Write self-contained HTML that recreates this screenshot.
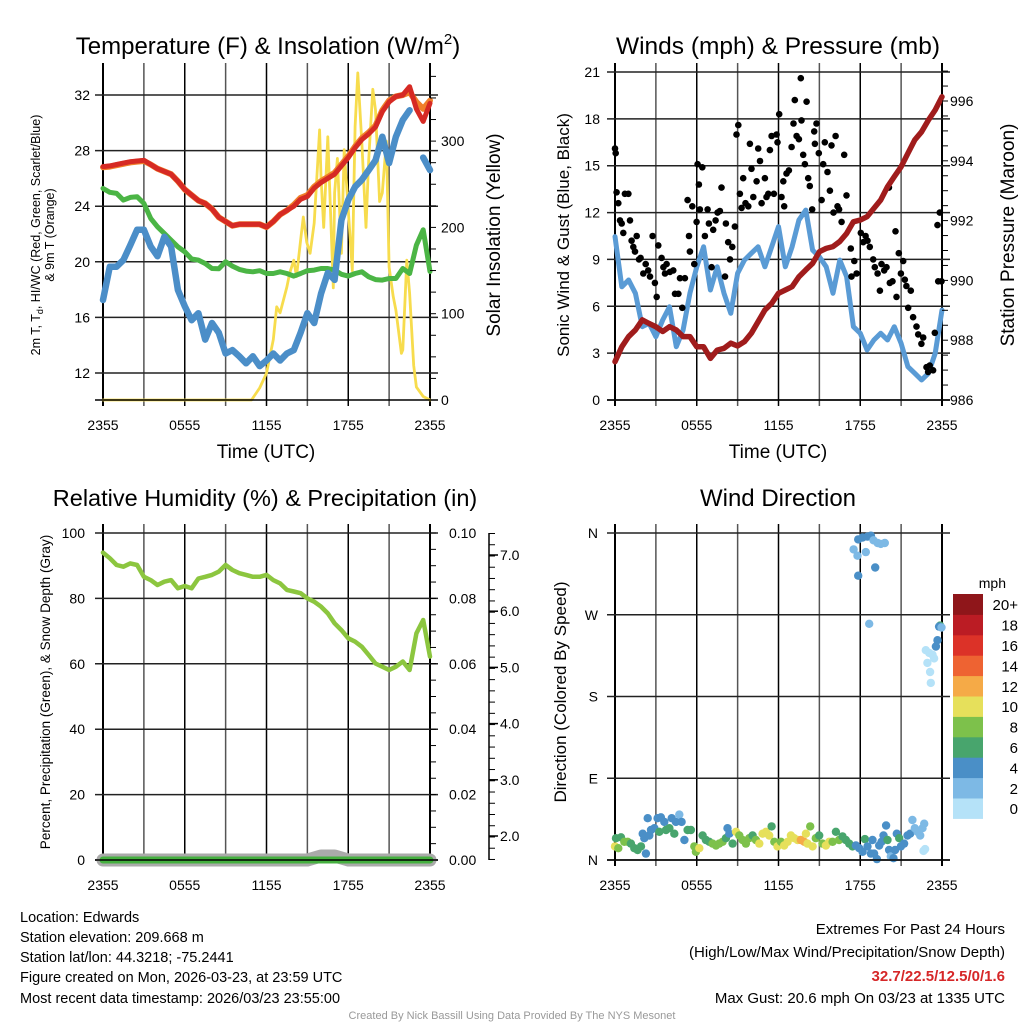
<!DOCTYPE html>
<html><head><meta charset="utf-8">
<style>
html,body{margin:0;padding:0;background:#fff;}
svg{display:block;font-family:"Liberation Sans",Arial,sans-serif;}
</style></head>
<body>
<svg id="chart" width="1024" height="1024" viewBox="0 0 1024 1024" xmlns="http://www.w3.org/2000/svg">
<rect x="0" y="0" width="1024" height="1024" fill="#fff"/>
<g id="grids"></g>
<g id="marks"></g>
<g id="frames"></g>
<g id="labels" fill="#000"></g>
<text x="268" y="54" font-size="24" text-anchor="middle">Temperature (F) &amp; Insolation (W/m<tspan font-size="15" dy="-10">2</tspan><tspan dy="10">)</tspan></text>
<text x="778" y="54" font-size="24.5" text-anchor="middle">Winds (mph) &amp; Pressure (mb)</text>
<text x="265" y="506" font-size="23.5" text-anchor="middle">Relative Humidity (%) &amp; Precipitation (in)</text>
<text x="778" y="506" font-size="24" text-anchor="middle">Wind Direction</text>
<text transform="translate(40,235) rotate(-90)" font-size="12.5" text-anchor="middle">2m T, T<tspan font-size="9" dy="3">d</tspan><tspan dy="-3">, HI/WC (Red, Green, Scarlet/Blue)</tspan></text>
<text transform="translate(54,235) rotate(-90)" font-size="12.5" text-anchor="middle">&amp; 9m T (Orange)</text>
<text transform="translate(500,235) rotate(-90)" font-size="19" text-anchor="middle">Solar Insolation (Yellow)</text>
<text transform="translate(569,235) rotate(-90)" font-size="17" text-anchor="middle">Sonic Wind &amp; Gust (Blue, Black)</text>
<text transform="translate(1014,235) rotate(-90)" font-size="19" text-anchor="middle">Station Pressure (Maroon)</text>
<text transform="translate(50,692) rotate(-90)" font-size="13.5" text-anchor="middle">Percent, Precipitation (Green), &amp; Snow Depth (Gray)</text>
<text transform="translate(566,692) rotate(-90)" font-size="17" text-anchor="middle">Direction (Colored By Speed)</text>
<text x="266" y="458" font-size="19" text-anchor="middle">Time (UTC)</text>
<text x="778" y="458" font-size="19" text-anchor="middle">Time (UTC)</text>
<text x="1006" y="588" font-size="14" text-anchor="end">mph</text>
<g font-size="14.5">
<text x="20" y="922">Location: Edwards</text>
<text x="20" y="942">Station elevation: 209.668 m</text>
<text x="20" y="962">Station lat/lon: 44.3218; -75.2441</text>
<text x="20" y="982">Figure created on Mon, 2026-03-23, at 23:59 UTC</text>
<text x="20" y="1003">Most recent data timestamp: 2026/03/23 23:55:00</text>
</g>
<g font-size="15" text-anchor="end">
<text x="1005" y="934">Extremes For Past 24 Hours</text>
<text x="1005" y="957">(High/Low/Max Wind/Precipitation/Snow Depth)</text>
<text x="1005" y="981" fill="#d62728" font-weight="bold">32.7/22.5/12.5/0/1.6</text>
<text x="1005" y="1003">Max Gust: 20.6 mph On 03/23 at 1335 UTC</text>
</g>
<text x="512" y="1019" font-size="11" fill="#999" text-anchor="middle">Created By Nick Bassill Using Data Provided By The NYS Mesonet</text>
</svg>
<script>
// ---- data ----
const halfHours = [0,0.5,1,1.5,2,2.5,3,3.5,4,4.5,5,5.5,6,6.5,7,7.5,8,8.5,9,9.5,10,10.5,11,11.5,12,12.5,13,13.5,14,14.5,15,15.5,16,16.5,17,17.5,18,18.5,19,19.5,20,20.5,21,21.5,22,22.5,23,23.5,24];
const timeTickLabels = ["2355","0555","1155","1755","2355"];
const tempF = [26.85,26.9,27.0,27.1,27.2,27.25,27.3,27.0,26.7,26.5,26.3,25.8,25.2,24.8,24.4,24.2,23.8,23.2,22.9,22.6,22.7,22.7,22.7,22.7,22.5,22.9,23.4,23.7,24.0,24.5,24.7,25.3,25.7,26.0,26.3,26.9,27.5,28.2,28.8,29.2,29.7,30.8,31.5,31.9,32.0,32.6,31.0,30.1,31.4];
const temp9mF = [26.8,26.85,26.95,27.05,27.15,27.2,27.25,27.0,26.7,26.5,26.3,25.8,25.2,24.8,24.4,24.2,23.8,23.2,22.9,22.6,22.7,22.7,22.7,22.7,22.5,22.9,23.4,23.7,24.1,24.6,24.8,25.4,25.8,26.1,26.4,27.0,27.6,28.3,28.9,29.3,29.8,30.9,31.6,31.9,32.0,32.2,31.5,31.0,31.6];
const dewF = [25.28,25.0,24.92,24.44,24.63,24.68,24.2,23.12,22.52,22.04,21.56,21.08,20.72,20.2,20.12,19.88,19.52,19.5,20.0,19.69,19.45,19.33,19.28,19.36,19.16,19.16,19.28,19.16,18.97,19.16,19.36,19.4,19.52,19.52,19.4,19.1,18.97,19.16,19.28,18.92,18.72,18.68,18.8,18.8,19.52,19.16,21.2,22.3,19.3];
const windChillF = [17.25,19.65,19.65,20.13,21.2,22.3,22.3,21.1,20.4,21.8,21.1,17.97,16.8,15.8,16.3,14.4,15.6,14.9,13.4,13.65,13.2,12.7,13.2,12.5,12.9,13.4,12.9,13.4,13.65,14.9,16.3,15.6,17.7,19.2,18.7,23.0,24.45,25.4,25.9,26.6,27.3,29.0,27.1,29.0,30.2,30.9,null,27.5,26.6];
const solarHours = [0,10.9,11.5,12,12.5,12.75,13,13.5,13.7,14,14.2,14.5,14.7,14.95,15.2,15.5,15.9,16,16.2,16.5,16.9,17,17.2,17.5,17.7,18,18.3,18.5,18.7,19,19.3,19.5,19.8,20,20.3,20.5,20.8,21,21.3,21.5,21.9,22,22.3,22.5,22.8,23,23.5,24];
const solarWm2 = [0,0,14,31,70,108,101,131,147,162,143,185,212,183,170,205,313,259,200,305,130,240,280,170,290,220,150,317,379,297,200,278,360,336,230,240,300,154,120,104,54,58,162,124,40,15,4,0];
const tempTicks = [12,16,20,24,28,32];
const solarTicks = [0,100,200,300];

const windMph = [10.46,7.25,7.68,6.83,4.69,4.91,4.05,5.12,5.97,3.41,4.48,6.83,8.53,9.81,7.04,8.53,6.83,5.55,8.11,8.96,9.39,9.81,8.53,9.81,11.1,8.53,9.81,11.52,12.16,9.6,9.17,8.53,6.83,8.96,7.9,4.69,4.27,3.2,3.84,4.27,3.84,4.69,3.63,2.13,1.71,1.28,1.71,2.99,5.76];
const pressureMb = [987.28,987.78,988.12,988.34,988.68,988.56,988.45,988.29,988.45,988.34,988.12,988.12,987.78,987.78,987.39,987.67,987.73,987.9,987.81,987.95,988.23,988.62,989.01,989.23,989.57,989.68,989.79,990.12,990.35,990.57,990.96,991.07,991.13,991.3,991.57,991.96,992.02,992.13,992.41,992.69,993.13,993.47,993.8,994.25,994.7,994.97,995.36,995.7,996.14];
const gustHours = [0,0.05,0.12,0.24,0.37,0.49,0.61,0.73,0.98,1.1,1.22,1.34,1.47,1.59,1.76,1.88,2.08,2.25,2.44,2.57,2.76,2.93,3.06,3.18,3.42,3.55,3.67,3.79,4.03,4.28,4.4,4.65,4.77,4.94,5.13,5.33,5.43,5.5,5.67,5.82,5.99,6.06,6.16,6.23,6.41,6.6,6.8,6.89,7.09,7.21,7.38,7.53,7.7,7.82,8.07,8.14,8.31,8.44,8.61,8.8,8.92,9.05,9.17,9.29,9.41,9.58,9.78,9.9,10.02,10.15,10.39,10.51,10.64,10.76,11.0,11.12,11.25,11.37,11.49,11.66,11.86,11.93,12.05,12.22,12.35,12.42,12.59,12.76,12.96,13.1,13.2,13.33,13.5,13.64,13.69,13.81,13.94,14.06,14.18,14.3,14.47,14.62,14.67,14.79,14.96,15.16,15.28,15.4,15.6,15.77,15.89,16.04,16.19,16.33,16.45,16.63,16.82,16.99,17.31,17.36,17.56,17.73,18.04,18.22,18.39,18.53,18.7,18.95,19.07,19.27,19.44,19.56,19.76,19.93,20.1,20.17,20.37,20.59,20.66,20.83,20.98,21.15,21.27,21.39,21.52,21.71,21.88,22.13,22.25,22.49,22.62,22.86,22.98,23.1,23.35,23.47,23.67,23.72,23.84,23.96];
const gustMph = [16.1,15.8,13.3,12.6,11.5,11.3,10.7,13.2,13.2,11.5,10.2,9.8,9.5,10.5,9.0,9.1,8.1,8.7,8.3,7.9,10.5,7.5,6.6,9.9,9.1,8.5,8.1,8.7,8.2,8.3,6.8,6.8,7.8,5.9,7.8,12.8,10.5,9.5,12.4,8.7,11.4,15.1,13.8,12.2,14.9,10.5,12.2,11.3,8.5,10.9,11.5,12.0,12.1,13.6,7.9,11.3,10.1,9.0,9.8,11.1,17.0,17.6,13.2,12.3,14.2,12.6,12.4,16.4,14.8,13.0,14.0,16.1,15.3,12.6,14.2,13.0,13.2,16.0,16.9,13.2,17.0,16.5,18.3,13.0,14.0,12.4,14.5,14.7,16.2,17.7,19.2,16.9,16.7,20.6,17.9,15.7,15.1,19.1,14.2,13.7,12.2,17.2,16.4,17.7,15.8,12.8,15.1,16.5,14.6,13.4,16.3,12.0,16.9,12.4,12.2,11.4,15.7,13.1,9.7,7.9,8.9,8.1,10.7,10.1,10.5,10.2,9.8,9.0,8.5,8.1,7.0,8.7,8.3,8.5,13.6,7.5,7.6,10.8,6.6,9.4,8.1,8.9,7.7,7.3,5.9,7.0,5.3,4.7,4.2,3.6,4.0,2.1,1.8,2.2,1.9,4.3,11.2,7.6,12.0,7.6];
const windTicks = [0,3,6,9,12,15,18,21];
const pressureTicks = [986,988,990,992,994,996];

const rhPct = [94.0,92.3,90.2,89.7,90.7,90.2,86.6,85.6,84.1,85.1,85.6,83.1,83.8,83.1,86.1,86.6,87.2,88.2,90.2,88.7,87.7,87.2,86.6,86.6,87.2,85.6,84.6,82.6,82.1,81.6,80.0,79.0,77.5,75.4,72.4,70.3,67.8,66.8,65.2,62.7,60.1,59.1,58.1,59.1,60.7,58.1,69.3,73.4,62.2];
const hourly = [0,1,2,3,4,5,6,7,8,9,10,11,12,13,14,15,16,17,18,19,20,21,22,23,24];
const precipIn = [0,0,0,0,0,0,0,0,0,0,0,0,0,0,0,0,0,0,0,0,0,0,0,0,0];
const snowDepthIn = [1.6,1.6,1.6,1.6,1.6,1.6,1.6,1.6,1.6,1.6,1.6,1.6,1.6,1.6,1.6,1.6,1.62,1.62,1.6,1.6,1.6,1.6,1.6,1.6,1.6];
const rhTicks = [0,20,40,60,80,100];
const precipTicks = ["0.00","0.02","0.04","0.06","0.08","0.10"];
const snowTicks = ["2.0","3.0","4.0","5.0","6.0","7.0"];

const dirHours = [0,0.07,0.24,0.44,0.68,0.93,1.17,1.42,1.66,1.91,2.03,2.15,2.27,2.4,2.52,2.64,2.89,3.13,3.25,3.37,3.62,3.74,3.99,4.16,4.35,4.47,4.72,4.89,5.09,5.33,5.57,5.82,5.94,6.19,6.43,6.67,6.92,7.16,7.41,7.65,7.9,8.14,8.26,8.39,8.63,8.88,9.12,9.36,9.61,9.85,10.1,10.34,10.59,10.83,11.08,11.32,11.49,11.69,11.93,12.18,12.42,12.67,12.91,13.15,13.4,13.64,13.89,14.01,14.13,14.33,14.5,14.74,14.99,15.23,15.48,15.72,15.97,16.21,16.45,16.7,16.94,17.19,17.43,17.68,17.92,18.17,18.34,18.53,18.78,18.9,19.02,19.22,19.39,19.56,19.71,19.9,20.0,20.12,20.24,20.44,20.56,20.68,20.86,20.98,21.22,21.47,21.66,21.83,22.0,22.2,22.4,22.57,22.69,22.64,22.76,17.51,17.8,17.85,17.85,18.17,18.41,18.53,18.78,18.97,19.1,19.27,19.51,19.8,18.66,23.86,23.79,23.96,23.67,23.55,23.42,22.81,23.06,23.3,22.93,23.13,23.18];
const dirDeg = [15,24,13,25,20,20,18,13,11,15,29,24,7,46,27,33,35,46,31,47,42,33,35,46,29,42,50,42,22,33,33,15,9,13,27,22,20,18,16,18,20,24,35,29,18,31,27,22,18,24,27,22,18,29,31,27,37,20,15,20,16,20,27,24,22,22,20,29,18,37,15,24,27,18,16,20,20,31,22,26,22,18,15,16,13,9,23,15,7,22,7,1,16,20,27,38,22,11,4,2,11,29,24,15,18,27,29,44,35,31,27,35,40,10,12,342,335,353,313,355,339,356,357,352,322,349,348,349,260,258,257,256,242,235,222,231,228,226,217,207,195];
const dirSpeed = [10,6,8,6,8,8,6,6,6,6,4,4,4,4,4,4,4,4,6,4,4,6,6,4,6,4,2,4,4,6,6,8,8,10,6,6,6,8,8,8,8,6,4,4,6,10,8,8,8,8,6,8,10,10,10,10,6,8,10,8,10,10,10,10,10,12,12,10,10,8,10,8,6,8,10,10,8,6,8,6,6,6,6,4,4,4,6,4,4,4,4,4,4,4,4,4,6,4,2,4,4,4,6,4,4,4,4,2,2,2,2,2,2,0,0,2,2,4,4,4,2,4,4,2,4,2,2,2,2,6,4,2,4,4,0,0,0,0,0,0,0];
const dirTickLabels = ["N","E","S","W","N"];
const speedBinLabels = ["0","2","4","6","8","10","12","14","16","18","20+"];
const speedBinColors = ["#b5e2f8","#7db9e5","#4a8fc7","#48a56d","#7dc14b","#e6e05b","#f5aa47","#ee6332","#dc3228","#bb1c24","#8f161a"];

// ---- helpers ----
const NS = "http://www.w3.org/2000/svg";
function mk(tag, parent){ const e = document.createElementNS(NS, tag); parent.appendChild(e); return e; }
const G = document.getElementById("grids");
const M = document.getElementById("marks");
const F = document.getElementById("frames");
const L = document.getElementById("labels");

function panel(x0, x1, yTop, yBot){ return {x0, x1, yTop, yBot, x: h => x0 + h / 24 * (x1 - x0)}; }
const P1 = panel(103, 430, 72, 400);
const P2 = panel(615, 942, 72, 400);
const P3 = panel(103, 430, 533, 860);
const P4 = panel(615, 942, 533, 860);

const yTemp = v => 95 + (32 - v) * 13.9;
const ySolar = v => 400 - v * 0.863;
const yWind = v => 400 - v * (328 / 21);
const yPres = v => 101 + (996 - v) * 29.9;
const yRH = v => 860 - v * 3.27;
const yPrecip = v => 860 - v * 3270;
const ySnow = v => 836 - (v - 2) * 56.2;
const yDir = v => 860 - v * (327 / 360);

function gridPanel(P, name, hTicksY){
  for (let i = 0; i <= 8; i++) {
    const x = P.x(i * 3);
    const ln = mk("line", G);
    ln.setAttribute("x1", x); ln.setAttribute("x2", x);
    ln.setAttribute("y1", P.yTop - 9); ln.setAttribute("y2", P.yBot + 6);
    ln.setAttribute("stroke", (i % 2 === 0) ? "#000" : "#555");
    ln.setAttribute("stroke-width", (i === 0 || i === 8) ? 2 : 1.5);
    
    
  }
  hTicksY.forEach(y => {
    const ln = mk("line", G);
    ln.setAttribute("x1", P.x0 - 8); ln.setAttribute("x2", P.x1 + 8);
    ln.setAttribute("y1", y); ln.setAttribute("y2", y);
    ln.setAttribute("stroke", "#222"); ln.setAttribute("stroke-width", 1.5);
    
    
  });
  const base = mk("line", F);
  base.setAttribute("x1", P.x0 - 8); base.setAttribute("x2", P.x1 + 8);
  base.setAttribute("y1", P.yBot); base.setAttribute("y2", P.yBot);
  base.setAttribute("stroke", "#000"); base.setAttribute("stroke-width", 1.5);
  
  
  timeTickLabels.forEach((t, i) => {
    const tx = mk("text", L);
    tx.setAttribute("x", P.x(i * 6)); tx.setAttribute("y", P.yBot + 30);
    tx.setAttribute("font-size", "14"); tx.setAttribute("text-anchor", "middle");
    tx.textContent = t;
    
    
  });
}
function tickLabel(x, y, txt, anchor, name, size){
  const tx = mk("text", L);
  tx.setAttribute("x", x); tx.setAttribute("y", y + 5);
  tx.setAttribute("font-size", size || "14"); tx.setAttribute("text-anchor", anchor);
  tx.textContent = txt;
  
  
  return tx;
}
function minorTicks(x, y0, y1, step, dir, name){
  for (let y = y0; y <= y1 + 0.1; y += step) {
    const t = mk("line", F);
    t.setAttribute("x1", x); t.setAttribute("x2", x + dir * 6);
    t.setAttribute("y1", y); t.setAttribute("y2", y);
    t.setAttribute("stroke", "#000"); t.setAttribute("stroke-width", 1);
    
    
  }
}
function linePath(xs, ys, P, xf, yf, color, width, name){
  let d = "", pen = false;
  for (let i = 0; i < xs.length; i++) {
    if (ys[i] === null) { pen = false; continue; }
    const px = P.x(xs[i]), py = yf(ys[i]);
    d += (pen ? "L" : "M") + px.toFixed(1) + " " + py.toFixed(1);
    pen = true;
  }
  const p = mk("path", M);
  p.setAttribute("d", d); p.setAttribute("fill", "none");
  p.setAttribute("stroke", color); p.setAttribute("stroke-width", width);
  p.setAttribute("stroke-linejoin", "round"); p.setAttribute("stroke-linecap", "round");
  
  
  return p;
}
function speedColor(s){ let i = Math.floor(s / 2); if (i > 10) i = 10; if (i < 0) i = 0; return speedBinColors[i]; }

// ---- panel 1 ----
gridPanel(P1, "temperature", tempTicks.map(yTemp));
tempTicks.forEach(v => tickLabel(90, yTemp(v), String(v), "end", "temperature-y-tick-label"));
solarTicks.forEach(v => tickLabel(441, ySolar(v), String(v), "start", "solar-y-tick-label"));
minorTicks(P1.x1, ySolar(375), ySolar(0), 0.863 * 25, 1, "solar-minor-tick");
linePath(solarHours, solarWm2, P1, null, ySolar, "#f7dc4d", 2.8, "solar-insolation-line");
linePath(halfHours, temp9mF, P1, null, yTemp, "#f07f2a", 6, "temperature-9m-line");
linePath(halfHours, tempF, P1, null, yTemp, "#d62a24", 5, "temperature-2m-line");
linePath(halfHours, dewF, P1, null, yTemp, "#4bb545", 5, "dewpoint-line");
linePath(halfHours, windChillF, P1, null, yTemp, "#4b8ec8", 6.5, "wind-chill-line");

// ---- panel 2 ----
gridPanel(P2, "winds", windTicks.map(yWind));
windTicks.forEach(v => tickLabel(600, yWind(v), String(v), "end", "wind-y-tick-label"));
pressureTicks.forEach(v => tickLabel(950, yPres(v), String(v), "start", "pressure-y-tick-label"));
minorTicks(P2.x1, yPres(997), yPres(986), 29.9 / 2, 1, "pressure-minor-tick");
linePath(halfHours, windMph, P2, null, yWind, "#5a9bd5", 5, "sonic-wind-line");
gustHours.forEach((h, i) => {
  const c = mk("circle", M);
  c.setAttribute("cx", P2.x(h).toFixed(1)); c.setAttribute("cy", yWind(gustMph[i]).toFixed(1));
  c.setAttribute("r", 3.3); c.setAttribute("fill", "#000");
  
  
});
linePath(halfHours, pressureMb, P2, null, yPres, "#a01c1c", 5.5, "pressure-line");

// ---- panel 3 ----
gridPanel(P3, "humidity", rhTicks.map(yRH));
rhTicks.forEach(v => tickLabel(85, yRH(v), String(v), "end", "humidity-y-tick-label"));
precipTicks.forEach(v => tickLabel(449, yPrecip(parseFloat(v)), v, "start", "precip-y-tick-label"));
minorTicks(P3.x1, yPrecip(0.1), yPrecip(0), 3270 * 0.005, 1, "precip-minor-tick");
(function(){
  const ax = mk("line", F);
  ax.setAttribute("x1", 489); ax.setAttribute("x2", 489);
  ax.setAttribute("y1", 533); ax.setAttribute("y2", 860);
  ax.setAttribute("stroke", "#000"); ax.setAttribute("stroke-width", 1.5);
  
  
})();
minorTicks(489, 533 + 0.5, 860, 56.2 / 5, 1, "snow-minor-tick");
snowTicks.forEach(v => tickLabel(500, ySnow(parseFloat(v)), v, "start", "snow-y-tick-label"));
snowTicks.forEach(v => {
  const t = mk("line", F);
  t.setAttribute("x1", 489); t.setAttribute("x2", 498);
  t.setAttribute("y1", ySnow(parseFloat(v))); t.setAttribute("y2", ySnow(parseFloat(v)));
  t.setAttribute("stroke", "#000"); t.setAttribute("stroke-width", 1.5);
  
  
});
const snowP3 = {x: h => P3.x(h)};
linePath(hourly, snowDepthIn, snowP3, null, v => 860 - (v - 1.6) * 200, "#aaa", 13, "snow-depth-line");
linePath(hourly, precipIn, P3, null, yPrecip, "#45b03f", 7, "precipitation-line");
linePath(halfHours, rhPct, P3, null, yRH, "#8cc63f", 4.5, "relative-humidity-line");

// ---- panel 4 ----
const dirTickVals = [0, 90, 180, 270, 360];
gridPanel(P4, "direction", dirTickVals.map(yDir));
dirTickVals.forEach((v, i) => tickLabel(598, yDir(v), dirTickLabels[i], "end", "direction-y-tick-label"));
dirHours.forEach((h, i) => {
  const c = mk("circle", M);
  c.setAttribute("cx", P4.x(h).toFixed(1)); c.setAttribute("cy", yDir(dirDeg[i]).toFixed(1));
  c.setAttribute("r", 4.2); c.setAttribute("fill", speedColor(dirSpeed[i]));
  
  
});
// colorbar
const cbTop = 594, cbBin = 20.4;
speedBinLabels.forEach((lab, i) => {
  const k = speedBinLabels.length - 1 - i;
  const r = mk("rect", M);
  r.setAttribute("x", 953); r.setAttribute("y", cbTop + k * cbBin);
  r.setAttribute("width", 30); r.setAttribute("height", cbBin + 0.5);
  r.setAttribute("fill", speedBinColors[i]);
  
  
  tickLabel(1018, cbTop + k * cbBin + cbBin / 2 + 1, lab, "end", "colorbar-label", "15");
});
</script>
</body></html>
